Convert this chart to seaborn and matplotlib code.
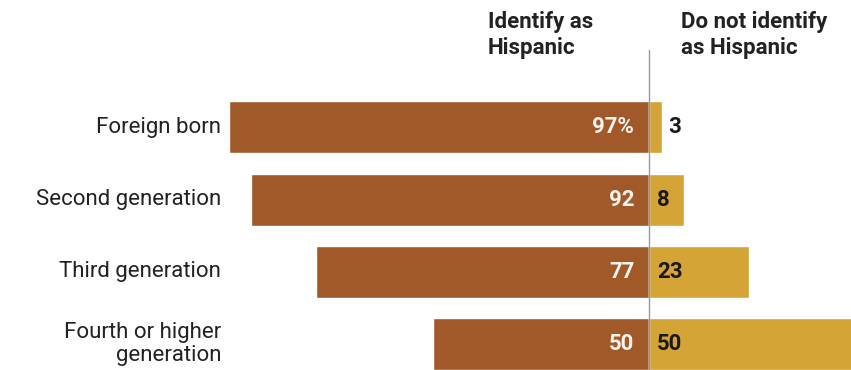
import seaborn as sns
import matplotlib.pyplot as plt
import pandas as pd

categories = ['Foreign born', 'Second generation', 'Third generation', 'Fourth or higher\ngeneration']
identify = [97, 92, 77, 50]
not_identify = [3, 8, 23, 50]

brown = '#A1592A'
gold = '#D4A437'

df = pd.DataFrame({'cat': categories, 'left': [-v for v in identify], 'right': not_identify})

sns.set_style('white')
plt.rcParams['font.family'] = ['Roboto', 'DejaVu Sans']

fig = plt.figure(figsize=(8.51, 3.7), dpi=100)
ax = fig.add_axes([0, 0, 1, 1])

sns.barplot(data=df, x='left', y='cat', orient='h', color=brown, width=0.72,
            saturation=1, ax=ax)
sns.barplot(data=df, x='right', y='cat', orient='h', color=gold, width=0.72,
            saturation=1, ax=ax)

px = 100 / 433.0  # data units per pixel (about 4.33 px per point)
x0 = -149.9
ax.set_xlim(x0, 46.6)
ax.set_ylim(3.36, -1.764)
ax.axis('off')

# center line
ax.plot([0, 0], [-1.07, 3.36], color='#999999', lw=1, zorder=5)

# category labels
for i, c in enumerate(categories):
    ax.text(x0 + 221 * px, i, c, ha='right', va='center', fontsize=16,
            color='#222222', linespacing=1.1)

# value labels
for i, v in enumerate(identify):
    lab = f'{v}%' if i == 0 else str(v)
    ax.text(-15 * px, i, lab, ha='right', va='center', fontsize=16,
            fontweight='bold', color='#fbf3ec')
for i, v in enumerate(not_identify):
    xpos = 8 * px if v * 4.33 > 25 else v + 6 * px
    ax.text(xpos, i, str(v), ha='left', va='center', fontsize=16,
            fontweight='bold', color='#1a1a1a')

# headers
hdr_font = ['Liberation Sans Narrow', 'Roboto', 'DejaVu Sans']
ax.text(x0 + 488 * px, -1.764 + 11 / 72, 'Identify as\nHispanic', ha='left', va='top',
        fontsize=16, fontweight='bold', family=hdr_font, color='#222222', linespacing=1.25)
ax.text(x0 + 681 * px, -1.764 + 11 / 72, 'Do not identify\nas Hispanic', ha='left', va='top',
        fontsize=16, fontweight='bold', family=hdr_font, color='#222222', linespacing=1.25)

fig.savefig('out.png', dpi=100)
